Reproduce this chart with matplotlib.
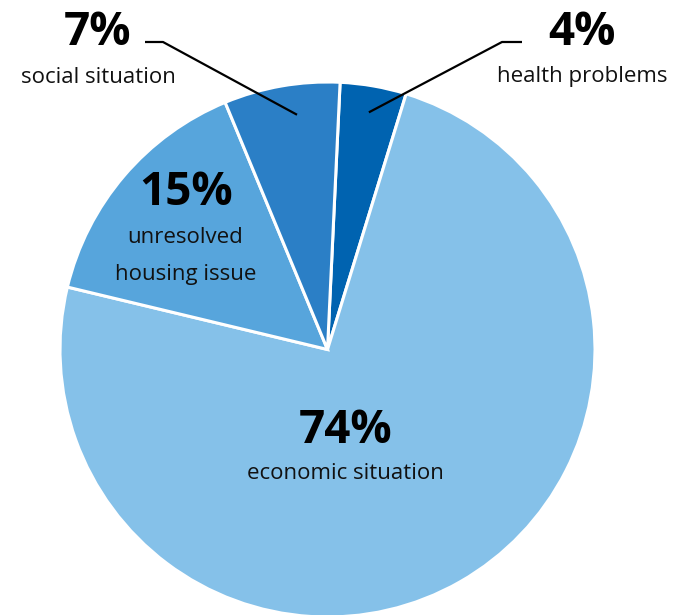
import matplotlib
matplotlib.use("Agg")
import matplotlib.pyplot as plt
import numpy as np

# Reasons (share of respondents, %)
labels = ["health problems", "economic situation", "unresolved\nhousing issue", "social situation"]
values = [4, 74, 15, 7]
colors = ["#0063b0", "#85c1e9", "#57a5dc", "#2b7fc6"]

plt.rcParams["font.family"] = ["Open Sans", "DejaVu Sans"]

W, H = 685, 615
fig = plt.figure(figsize=(W / 100, H / 100), dpi=100)
ax = fig.add_axes([0, 0, 1, 1])

# pie geometry in pixel space (y measured upward)
cx, cy, R = 327.5, H - 349.5, 267.5

wedges, _ = ax.pie(values, colors=colors, startangle=87.3, counterclock=False,
                   center=(cx, cy), radius=R,
                   wedgeprops=dict(edgecolor="white", linewidth=2.2))

ax.set_xlim(0, W)
ax.set_ylim(0, H)
ax.set_aspect("equal")
ax.axis("off")

pct_kw = dict(ha="center", va="baseline", fontsize=33, fontweight="bold", color="black")
txt_kw = dict(ha="center", va="baseline", fontsize=16, color="#111111")

# inside labels
ax.text(346, H - 443, f"{values[1]}%", **pct_kw)
ax.text(345, H - 479, labels[1], **txt_kw)
ax.text(186, H - 205, f"{values[2]}%", **pct_kw)
ax.text(185, H - 243, "unresolved", **txt_kw)
ax.text(186, H - 280, "housing issue", **txt_kw)

# outside labels
ax.text(97.5, H - 45, f"{values[3]}%", **pct_kw)
ax.text(98, H - 83, labels[3], **txt_kw)
ax.text(582, H - 45, f"{values[0]}%", **pct_kw)
ax.text(582.5, H - 82, labels[0], **txt_kw)


def anchor(w, frac=0.885, shift=0.0):
    th = np.deg2rad((w.theta1 + w.theta2) / 2 + shift)
    return cx + frac * R * np.cos(th), cy + frac * R * np.sin(th)


# leader lines
sx, sy = anchor(wedges[3], 0.885, -2.5)
ax.plot([145, 163, sx], [H - 42, H - 42, sy], color="black", lw=1.6,
        solid_capstyle="butt")
hx, hy = anchor(wedges[0], 0.9)
ax.plot([522, 502, hx], [H - 42, H - 42, hy], color="black", lw=1.6,
        solid_capstyle="butt")

fig.savefig("out.png", dpi=100, facecolor="white")
